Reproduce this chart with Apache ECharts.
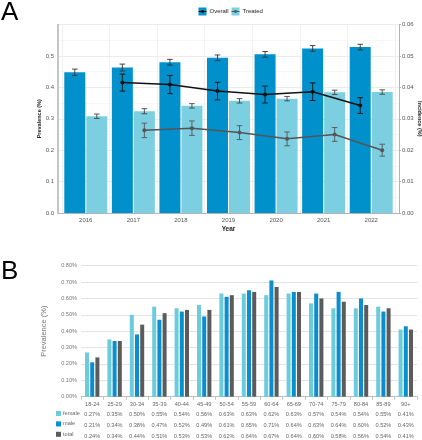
<!DOCTYPE html>
<html><head><meta charset="utf-8">
<script src="https://cdn.jsdelivr.net/npm/echarts@6/dist/echarts.min.js"></script>
<style>html,body{margin:0;padding:0;background:#fff}#c{width:422px;height:440px}</style>
</head><body><div id="c"></div>
<script>
// ---------- Panel A data ----------
const years = ['2016','2017','2018','2019','2020','2021','2022'];
const overallPrev = [0.448,0.463,0.480,0.494,0.505,0.524,0.528];
const overallPrevErr = [0.010,0.011,0.009,0.009,0.009,0.009,0.009];
const treatedPrev = [0.308,0.324,0.341,0.357,0.364,0.384,0.385];
const treatedPrevErr = [0.007,0.008,0.007,0.007,0.007,0.007,0.007];
const overallInc = [null,0.0415,0.0409,0.0388,0.0377,0.0386,0.0342];
const overallIncErr = [null,0.0027,0.0029,0.0028,0.0027,0.0028,0.0025];
const treatedInc = [null,0.0263,0.0270,0.0256,0.0236,0.0250,0.0200];
const treatedIncErr = [null,0.0023,0.0023,0.0022,0.0022,0.0022,0.0019];
// ---------- Panel B data ----------
const ageGroups = ['18-24','25-29','30-34','35-39','40-44','45-49','50-54','55-59','60-64','65-69','70-74','75-79','80-84','85-89','90+'];
const female = [0.27,0.35,0.50,0.55,0.54,0.56,0.63,0.63,0.62,0.63,0.57,0.54,0.54,0.55,0.41];
const male   = [0.21,0.34,0.38,0.47,0.52,0.49,0.61,0.65,0.71,0.64,0.63,0.64,0.60,0.52,0.43];
const total  = [0.24,0.34,0.44,0.51,0.53,0.53,0.62,0.64,0.67,0.64,0.60,0.58,0.56,0.54,0.41];

const C_OVERALL = '#0091cd', C_TREATED = '#7bcfe0';
const C_F = '#6ccbdc', C_M = '#0a8ed0', C_T = '#5b5b5b';
const FONT = 'Liberation Sans';

function errData(vals, errs){
  const out = [];
  vals.forEach((v,i)=>{ if(v!=null) out.push([i, v-errs[i], v+errs[i]]); });
  return out;
}
function errSeries(xi, yi, data, color, cap, lw){
  return {
    type:'custom', xAxisIndex:xi, yAxisIndex:yi, z:10, silent:true,
    renderItem:function(params, api){
      const lo = api.coord([api.value(0), api.value(1)]);
      const hi = api.coord([api.value(0), api.value(2)]);
      const x = lo[0];
      const st = {stroke:color, lineWidth:lw};
      return {type:'group', children:[
        {type:'line', shape:{x1:x,y1:lo[1],x2:x,y2:hi[1]}, style:st},
        {type:'line', shape:{x1:x-cap,y1:lo[1],x2:x+cap,y2:lo[1]}, style:st},
        {type:'line', shape:{x1:x-cap,y1:hi[1],x2:x+cap,y2:hi[1]}, style:st}
      ]};
    },
    encode:{x:0, y:[1,2]},
    data:data
  };
}

const topA = 24.5, botA = 227;
const G = {containLabel:false, outerBoundsMode:'none'};
const chart = echarts.init(document.getElementById('c'), null, {renderer:'canvas'});
const option = {
  animation:false,
  textStyle:{fontFamily:FONT},
  grid:[
    Object.assign({left:58, right:23, top:topA, bottom:botA}, G),   // 0 frame
    Object.assign({left:62, right:27, top:topA, bottom:botA}, G),   // 1 bars
    Object.assign({left:51, right:38, top:topA, bottom:botA}, G),   // 2 overall centres
    Object.assign({left:73, right:16, top:topA, bottom:botA}, G),   // 3 treated centres
    Object.assign({left:81, right:5, top:265.7, bottom:43.3}, G)    // 4 panel B
  ],
  xAxis:[
    {gridIndex:0, type:'value', min:0, max:1, show:true, axisLine:{show:true, lineStyle:{color:'#b3b3b3', width:1}}, axisTick:{show:false}, axisLabel:{show:false}, splitLine:{show:false}},
    {gridIndex:1, type:'category', data:years, axisLine:{show:false}, axisTick:{show:false},
      axisLabel:{color:'#555', fontSize:6, margin:4},
      splitLine:{show:true, lineStyle:{color:'#ececec', width:0.8}},
      name:'Year', nameLocation:'middle', nameGap:13, nameMoveOverlap:false, nameTextStyle:{fontSize:6.5, fontWeight:'bold', color:'#222'}},
    {gridIndex:2, type:'category', data:years, show:false},
    {gridIndex:3, type:'category', data:years, show:false},
    {gridIndex:4, type:'category', data:ageGroups,
      axisLine:{show:true, lineStyle:{color:'#bfbfbf'}},
      axisTick:{show:true, length:3, lineStyle:{color:'#bfbfbf'}},
      axisLabel:{interval:0, margin:2, color:'#666', fontSize:5.6, lineHeight:10.7,
        formatter:function(v, i){ return v + '\n' + female[i].toFixed(2)+'%\n' + male[i].toFixed(2)+'%\n' + total[i].toFixed(2)+'%'; }}}
  ],
  yAxis:[
    {gridIndex:0, type:'value', min:0, max:0.6, interval:0.1, position:'left',
      axisLine:{show:true, lineStyle:{color:'#b3b3b3', width:1.5}}, axisTick:{show:false},
      axisLabel:{color:'#555', fontSize:6, margin:4, formatter:v=> v>0.55 ? '' : v.toFixed(1)},
      splitLine:{show:true, lineStyle:{color:'#e6e6e6', width:0.8}},
      minorTick:{show:false, splitNumber:2}, minorSplitLine:{show:true, lineStyle:{color:'#f3f3f3', width:0.6}},
      name:'Prevalence (%)', nameLocation:'middle', nameGap:16, nameMoveOverlap:false, nameRotate:90, nameTextStyle:{fontSize:5.5, fontWeight:'bold', color:'#222'}},
    {gridIndex:0, type:'value', min:0, max:0.06, interval:0.01, position:'right',
      axisLine:{show:true, lineStyle:{color:'#b3b3b3', width:1}}, axisTick:{show:true, length:2, lineStyle:{color:'#b3b3b3'}},
      axisLabel:{color:'#555', fontSize:6, margin:3, formatter:v=>v.toFixed(2)},
      splitLine:{show:false},
      name:'Incidence (%)', nameLocation:'middle', nameGap:18, nameMoveOverlap:false, nameRotate:-90, nameTextStyle:{fontSize:5.5, fontWeight:'bold', color:'#222'}},
    {gridIndex:1, type:'value', min:0, max:0.6, show:false},
    {gridIndex:2, type:'value', min:0, max:0.6, show:false},
    {gridIndex:2, type:'value', min:0, max:0.06, show:false},
    {gridIndex:3, type:'value', min:0, max:0.6, show:false},
    {gridIndex:3, type:'value', min:0, max:0.06, show:false},
    {gridIndex:4, type:'value', min:0, max:0.8, interval:0.1,
      axisLine:{show:false}, axisTick:{show:false},
      axisLabel:{color:'#777', fontSize:5.6, margin:4, formatter:v=>v.toFixed(2)+'%'},
      splitLine:{show:true, lineStyle:{color:'#dcdcdc', width:0.8}},
      name:'Prevalence (%)', nameLocation:'middle', nameGap:33, nameMoveOverlap:false, nameRotate:90, nameTextStyle:{fontSize:7.5, color:'#777'}}
  ],
  legend:{
    data:['female','male','total'], orient:'vertical', left:56, top:410.5,
    itemWidth:5, itemHeight:5, itemGap:4.4, icon:'rect', padding:0,
    textStyle:{fontSize:5.6, color:'#666', padding:[0,0,0,-3]}, selectedMode:false
  },
  series:[
    {name:'Overall', type:'bar', xAxisIndex:1, yAxisIndex:2, data:overallPrev, barWidth:21, barGap:'4.8%', itemStyle:{color:C_OVERALL}, z:3},
    {name:'Treated', type:'bar', xAxisIndex:1, yAxisIndex:2, data:treatedPrev, barWidth:21, itemStyle:{color:C_TREATED}, z:3},
    errSeries(2, 3, errData(overallPrev, overallPrevErr), '#333', 2.8, 0.9),
    errSeries(3, 5, errData(treatedPrev, treatedPrevErr), '#444', 2.8, 0.9),
    {name:'Overall incidence', type:'line', xAxisIndex:2, yAxisIndex:4, data:overallInc, connectNulls:false,
      symbol:'circle', symbolSize:4, lineStyle:{color:'#111', width:1.5}, itemStyle:{color:'#111'}, z:12},
    errSeries(2, 4, errData(overallInc, overallIncErr), '#111', 2.8, 0.9),
    {name:'Treated incidence', type:'line', xAxisIndex:3, yAxisIndex:6, data:treatedInc, connectNulls:false,
      symbol:'circle', symbolSize:4, lineStyle:{color:'#555', width:1.5}, itemStyle:{color:'#555'}, z:12},
    errSeries(3, 6, errData(treatedInc, treatedIncErr), '#555', 2.8, 0.9),
    {name:'female', type:'bar', xAxisIndex:4, yAxisIndex:7, data:female, barWidth:4, barGap:'30%', itemStyle:{color:C_F}},
    {name:'male', type:'bar', xAxisIndex:4, yAxisIndex:7, data:male, barWidth:4, itemStyle:{color:C_M}},
    {name:'total', type:'bar', xAxisIndex:4, yAxisIndex:7, data:total, barWidth:4, itemStyle:{color:C_T}}
  ],
  graphic:[
    {type:'text', left:1, top:0, style:{text:'A', fontSize:26, fill:'#000', fontFamily:FONT}},
    {type:'text', left:1, top:259, style:{text:'B', fontSize:26, fill:'#000', fontFamily:FONT}},
    {type:'group', left:196, top:7.5, children:[
      {type:'rect', shape:{x:0,y:0,width:8,height:8}, style:{fill:C_OVERALL}},
      {type:'line', shape:{x1:0,y1:4,x2:8,y2:4}, style:{stroke:'#111', lineWidth:1}},
      {type:'circle', shape:{cx:4,cy:4,r:1.4}, style:{fill:'#111'}},
      {type:'text', x:11, y:4, style:{text:'Overall', fontSize:6, fill:'#222', textVerticalAlign:'middle', fontFamily:FONT}},
      {type:'rect', shape:{x:33,y:0,width:8,height:8}, style:{fill:C_TREATED}},
      {type:'line', shape:{x1:33,y1:4,x2:41,y2:4}, style:{stroke:'#555', lineWidth:1}},
      {type:'circle', shape:{cx:37,cy:4,r:1.4}, style:{fill:'#555'}},
      {type:'text', x:44, y:4, style:{text:'Treated', fontSize:6, fill:'#222', textVerticalAlign:'middle', fontFamily:FONT}}
    ]}
  ]
};
chart.setOption(option);
</script></body></html>
